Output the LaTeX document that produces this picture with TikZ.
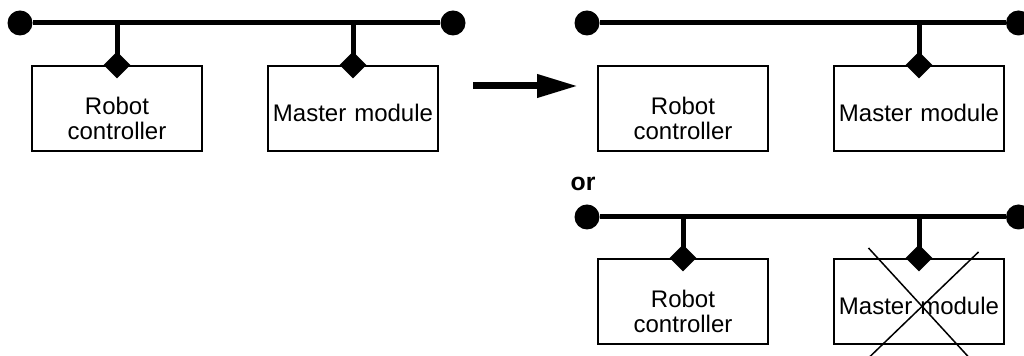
\documentclass[tikz,border=0pt]{standalone}
\usepackage{fontspec}
\setmainfont{Liberation Sans}
\usetikzlibrary{shapes.geometric,arrows.meta,positioning}

\begin{document}
\begin{tikzpicture}[x=0.5pt, y=-0.5pt, node distance=118pt,
        % Define block style
        block/.style={
        rectangle,
        draw,
        line width=1pt,
        text width=82pt,
        align=center,
        inner sep=0pt,
        minimum width=85pt,
        minimum height=42.5pt,
        font=\fontsize{12}{12.5}\selectfont
        },
        twoline/.style={text height=19pt},
        oneline/.style={text height=13.5pt},
        bus/.style={line width=2.5pt},
        busend/.style={circle, fill, inner sep=0pt, minimum size=12.5pt},
        tap/.style={diamond, fill, inner sep=0pt, minimum size=13.5pt},
        cross/.style={line width=0.75pt}]
        \useasboundingbox (0,0) rectangle (1024,356);

        % Before
        \node[busend] (b1l) at (20,23) {};
        \node[busend] (b1r) at (453,23) {};
        \node[block, twoline] (rc1) at (117,108.5) {Robot\\controller};
        \node[block, oneline, right of=rc1] (mm1) {Master module};

        % After
        \node[busend] (b2l) at (587,23) {};
        \node[busend] (b2r) at (1018.5,23) {};
        \node[block, twoline, right of=rc1, node distance=283pt] (rc2) {Robot\\controller};
        \node[block, oneline, right of=rc2] (mm2) {Master module};

        \node[font=\bfseries\fontsize{12.4}{12}\selectfont] (or) at (583,183.5) {or};

        \node[busend] (b3l) at (587,217) {};
        \node[busend] (b3r) at (1018.5,217) {};
        \node[block, twoline, below of=rc2, node distance=96.5pt] (rc3) {Robot\\controller};
        \node[block, oneline, right of=rc3] (mm3) {Master module};

        % Buses and stems
        \draw[bus] (b1l) -- (b1r);
        \draw[bus] (rc1.north |- b1l) -- (rc1.north);
        \draw[bus] (mm1.north |- b1l) -- (mm1.north);
        \draw[bus] (b2l) -- (b2r);
        \draw[bus] (mm2.north |- b2l) -- (mm2.north);
        \draw[bus] (b3l) -- (b3r);
        \draw[bus] (rc3.north |- b3l) -- (rc3.north);
        \draw[bus] (mm3.north |- b3l) -- (mm3.north);

        % Taps
        \node[tap] (t1) at (rc1.north) {};
        \node[tap] (t2) at (mm1.north) {};
        \node[tap] (t3) at (mm2.north) {};
        \node[tap] (t4) at (rc3.north) {};
        \node[tap] (t5) at (mm3.north) {};

        % Arrow
        \coordinate (arrs) at (473,86);
        \coordinate (arre) at (578,86);
        \draw[line width=3.5pt, -{Triangle[length=20.5pt,width=11pt]}] (arrs) -- (arre);

        % Crossed out master
        \draw[cross] ([shift={(-50.5,-53.5)}]mm3.center) -- ([shift={(50,56)}]mm3.center);
        \draw[cross] ([shift={(59.5,-49.5)}]mm3.center) -- ([shift={(-50,56)}]mm3.center);
    \end{tikzpicture}
\end{document}
